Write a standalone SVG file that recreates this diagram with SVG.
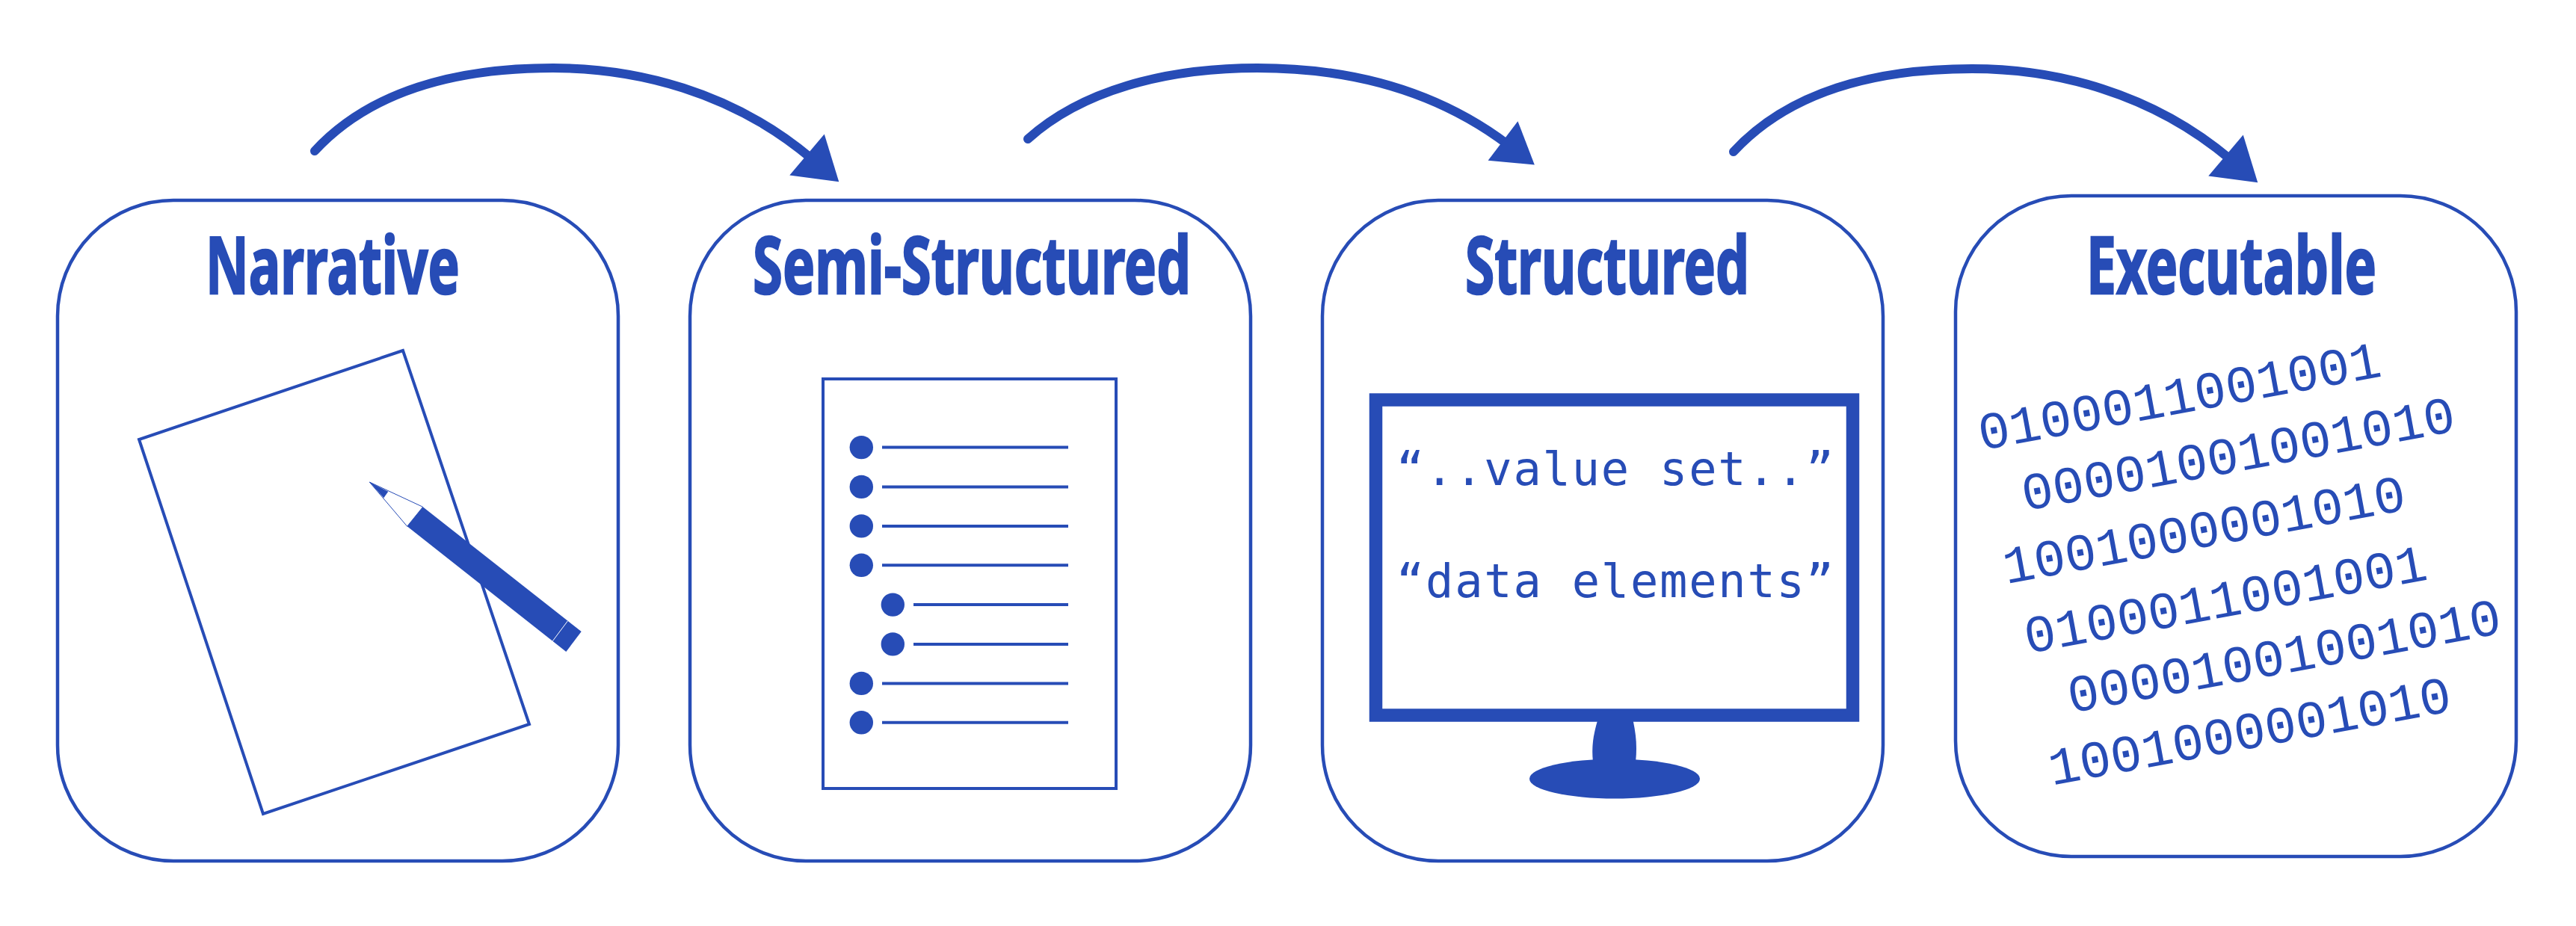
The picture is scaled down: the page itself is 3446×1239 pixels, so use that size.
<svg xmlns="http://www.w3.org/2000/svg" width="3446" height="1239" viewBox="0 0 3446 1239">
<style>
.box{fill:none;stroke:#274cb6;stroke-width:4.5}
.title{font-family:"Noto Sans","Open Sans",sans-serif;font-weight:700;font-size:106px;fill:#274cb6;stroke:#274cb6;stroke-width:2.5}
.ln{stroke:#274cb6;stroke-width:4;fill:none}
.dot{fill:#274cb6}
.mono{font-family:"DejaVu Sans Mono",monospace;fill:#274cb6;font-size:62px}
.bin{font-family:"Liberation Mono",monospace;fill:#274cb6;font-size:70px}
.arrow{fill:none;stroke:#274cb6;stroke-width:12;stroke-linecap:round}
</style>
<defs>
<marker id="head" markerUnits="userSpaceOnUse" markerWidth="80" markerHeight="90" refX="8" refY="36" orient="auto" overflow="visible">
<polygon points="0,0 56,36 0,72" fill="#274cb6"/>
</marker>
<marker id="head2" markerUnits="userSpaceOnUse" markerWidth="80" markerHeight="90" refX="8" refY="33" orient="auto" overflow="visible">
<polygon points="0,0 53,33 0,66" fill="#274cb6"/>
</marker>
</defs>
<rect width="3446" height="1239" fill="#fff"/>
<g id="connectors">
<path class="arrow" marker-end="url(#head)" d="M421,202 C495,122 610,91 740,91 C850,91 978.8,121.8 1085.6,212.2"/>
<path class="arrow" marker-end="url(#head2)" d="M1375,186 C1446,122 1557,91 1682,91 C1787,91 1909,111.8 2016.9,193.3"/>
<path class="arrow" marker-end="url(#head)" d="M2319,203 C2393,123 2508,92 2638,92 C2748,92 2876.8,122.8 2983.6,213.2"/>
</g>
<g id="narrative">
<rect class="box" x="77" y="268" width="750" height="884" rx="155" ry="155"/>
<text class="title" x="275" y="393" textLength="340" lengthAdjust="spacingAndGlyphs">Narrative</text>
<polygon class="ln" points="539,469 186,588 352,1089 708,969"/>
<polygon points="494.3,645 565.7,678.3 544.7,704.3" fill="#fff" stroke="#274cb6" stroke-width="1"/>
<polygon class="dot" points="494.3,645 519.3,657.7 513.3,666.3"/>
<polygon class="dot" points="565.7,678.3 777.7,845 757.3,872 544.7,704.3"/>
<line x1="759.3" y1="831" x2="739.3" y2="857.7" stroke="#fff" stroke-width="1"/>
</g>
<g id="semi-structured">
<rect class="box" x="923" y="268" width="750" height="884" rx="155" ry="155"/>
<text class="title" x="1007" y="393" textLength="586" lengthAdjust="spacingAndGlyphs">Semi-Structured</text>
<rect class="ln" x="1101" y="507" width="392" height="548"/>
<circle class="dot" cx="1152.3" cy="598.6" r="15.7"/><line class="ln" x1="1180" y1="598.6" x2="1429" y2="598.6"/>
<circle class="dot" cx="1152.3" cy="651.4" r="15.7"/><line class="ln" x1="1180" y1="651.4" x2="1429" y2="651.4"/>
<circle class="dot" cx="1152.3" cy="703.9" r="15.7"/><line class="ln" x1="1180" y1="703.9" x2="1429" y2="703.9"/>
<circle class="dot" cx="1152.3" cy="756.3" r="15.7"/><line class="ln" x1="1180" y1="756.3" x2="1429" y2="756.3"/>
<circle class="dot" cx="1194.3" cy="809.1" r="15.7"/><line class="ln" x1="1222" y1="809.1" x2="1429" y2="809.1"/>
<circle class="dot" cx="1194.3" cy="861.9" r="15.7"/><line class="ln" x1="1222" y1="861.9" x2="1429" y2="861.9"/>
<circle class="dot" cx="1152.3" cy="914.4" r="15.7"/><line class="ln" x1="1180" y1="914.4" x2="1429" y2="914.4"/>
<circle class="dot" cx="1152.3" cy="966.8" r="15.7"/><line class="ln" x1="1180" y1="966.8" x2="1429" y2="966.8"/>
</g>
<g id="structured">
<rect class="box" x="1769" y="268" width="750" height="884" rx="155" ry="155"/>
<text class="title" x="1960" y="393" textLength="380" lengthAdjust="spacingAndGlyphs">Structured</text>
<rect x="1840.5" y="535" width="638" height="422" fill="none" stroke="#274cb6" stroke-width="17.5"/>
<path class="dot" d="M2136.8,965 C2131,985 2129,1000 2131,1020 L2188,1020 C2190,1000 2189,985 2184.8,965 Z"/>
<ellipse class="dot" cx="2160" cy="1042" rx="114" ry="26.5"/>
<text class="mono" x="1868" y="649" textLength="585">“..value set..”</text>
<text class="mono" x="1868" y="799" textLength="585">“data elements”</text>
</g>
<g id="executable">
<rect class="box" x="2616" y="262" width="750" height="884" rx="155" ry="155"/>
<text class="title" x="2791" y="393" textLength="388" lengthAdjust="spacingAndGlyphs">Executable</text>
<text class="bin" transform="translate(2651,602.5) rotate(-10.5)">0100011001001</text>
<text class="bin" transform="translate(2709,683.6) rotate(-10.5)">00001001001010</text>
<text class="bin" transform="translate(2684,781.3) rotate(-10.5)">1001000001010</text>
<text class="bin" transform="translate(2712.5,874.5) rotate(-10.5)">0100011001001</text>
<text class="bin" transform="translate(2770.5,954) rotate(-10.5)">00001001001010</text>
<text class="bin" transform="translate(2745,1050.7) rotate(-10.5)">1001000001010</text>
</g>
</svg>
